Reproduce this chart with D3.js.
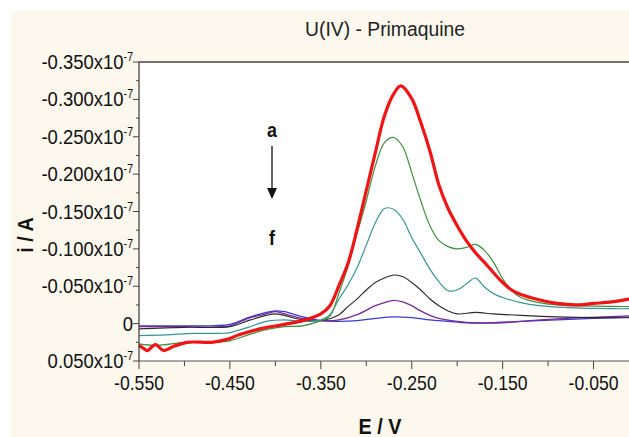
<!doctype html>
<html>
<head>
<meta charset="utf-8">
<title>U(IV) - Primaquine</title>
<script src="https://d3js.org/d3.v7.min.js"></script>
<style>
  body { margin: 0; background: #fff; }
  svg { display: block; }
  .tick-lbl { font-family: "Liberation Sans", Arial, sans-serif; font-size: 20px; fill: #111; }
  .ylbl { font-size: 21px; }
  .ttl { font-family: "Liberation Sans", Arial, sans-serif; font-size: 21px; fill: #222; }
  .axlbl { font-family: "Liberation Sans", Arial, sans-serif; font-size: 22px; font-weight: bold; fill: #111; }
  .ann { font-family: "Liberation Sans", Arial, sans-serif; font-size: 21px; font-weight: bold; fill: #111; }
</style>
</head>
<body>
<script>
// potentials (V) and currents (x1e-7 A), a .. f
var redE   = [-0.55,-0.545,-0.541,-0.532,-0.523,-0.513,-0.497,-0.47,-0.453,-0.44,-0.417,-0.39,-0.37,-0.35,-0.34,-0.33,-0.32,-0.31,-0.30,-0.29,-0.28,-0.27,-0.262,-0.25,-0.24,-0.23,-0.22,-0.21,-0.20,-0.19,-0.18,-0.17,-0.16,-0.15,-0.14,-0.13,-0.11,-0.09,-0.07,-0.05,-0.03,-0.01,0];
var redI   = [0.029,0.033,0.036,0.028,0.036,0.031,0.025,0.025,0.021,0.015,0.007,0.001,-0.004,-0.013,-0.024,-0.051,-0.081,-0.127,-0.178,-0.229,-0.278,-0.307,-0.318,-0.301,-0.269,-0.231,-0.185,-0.154,-0.131,-0.111,-0.095,-0.082,-0.068,-0.055,-0.045,-0.039,-0.032,-0.027,-0.025,-0.027,-0.029,-0.033,-0.035];

var greenE = [-0.55,-0.53,-0.50,-0.47,-0.45,-0.43,-0.41,-0.39,-0.37,-0.35,-0.34,-0.33,-0.32,-0.31,-0.30,-0.29,-0.28,-0.27,-0.26,-0.25,-0.24,-0.23,-0.22,-0.21,-0.20,-0.19,-0.18,-0.17,-0.16,-0.15,-0.14,-0.13,-0.11,-0.09,-0.07,-0.03,0];
var greenI = [0.027,0.029,0.025,0.025,0.023,0.015,0.008,0.004,0.003,-0.004,-0.010,-0.041,-0.077,-0.121,-0.164,-0.211,-0.242,-0.249,-0.237,-0.202,-0.164,-0.131,-0.111,-0.103,-0.100,-0.102,-0.106,-0.098,-0.082,-0.060,-0.044,-0.035,-0.028,-0.025,-0.024,-0.023,-0.023];

var tealE  = [-0.55,-0.52,-0.49,-0.46,-0.45,-0.43,-0.41,-0.39,-0.37,-0.35,-0.34,-0.33,-0.32,-0.31,-0.30,-0.29,-0.28,-0.27,-0.26,-0.25,-0.24,-0.23,-0.22,-0.21,-0.20,-0.19,-0.18,-0.17,-0.16,-0.15,-0.13,-0.11,-0.07,-0.03,0];
var tealI  = [0.016,0.015,0.013,0.013,0.012,0.005,-0.003,-0.005,-0.003,-0.005,-0.012,-0.033,-0.052,-0.075,-0.105,-0.135,-0.154,-0.153,-0.140,-0.115,-0.094,-0.073,-0.056,-0.044,-0.045,-0.053,-0.061,-0.049,-0.040,-0.035,-0.028,-0.024,-0.021,-0.020,-0.020];

var blackE = [-0.55,-0.50,-0.45,-0.43,-0.41,-0.40,-0.39,-0.37,-0.35,-0.33,-0.32,-0.31,-0.30,-0.29,-0.28,-0.27,-0.26,-0.25,-0.24,-0.23,-0.22,-0.21,-0.20,-0.18,-0.16,-0.13,-0.09,-0.05,0];
var blackI = [0.007,0.005,0.004,-0.004,-0.011,-0.013,-0.011,-0.005,-0.004,-0.012,-0.023,-0.033,-0.045,-0.055,-0.061,-0.065,-0.063,-0.055,-0.045,-0.033,-0.024,-0.017,-0.013,-0.015,-0.013,-0.011,-0.009,-0.008,-0.008];

var purpleE = [-0.55,-0.50,-0.45,-0.43,-0.41,-0.40,-0.39,-0.37,-0.35,-0.33,-0.31,-0.29,-0.28,-0.27,-0.26,-0.25,-0.24,-0.23,-0.22,-0.20,-0.18,-0.15,-0.12,-0.08,-0.04,0];
var purpleI = [0.004,0.004,0.003,-0.007,-0.013,-0.016,-0.013,-0.007,-0.004,-0.005,-0.012,-0.024,-0.028,-0.031,-0.029,-0.024,-0.017,-0.011,-0.007,-0.003,-0.001,-0.001,-0.004,-0.007,-0.009,-0.011];

var blueE  = [-0.55,-0.50,-0.45,-0.43,-0.41,-0.40,-0.39,-0.37,-0.35,-0.33,-0.31,-0.29,-0.27,-0.25,-0.23,-0.21,-0.19,-0.17,-0.13,-0.09,-0.05,0];
var blueI  = [0.003,0.003,0.001,-0.008,-0.015,-0.017,-0.016,-0.009,-0.004,-0.003,-0.004,-0.007,-0.009,-0.008,-0.005,-0.003,-0.001,-0.001,-0.003,-0.005,-0.007,-0.009];

var xTicks = [-0.55,-0.45,-0.35,-0.25,-0.15,-0.05];
var xMinor = [-0.50,-0.40,-0.30,-0.20,-0.10];
var yTicks = [0.05,0,-0.05,-0.10,-0.15,-0.20,-0.25,-0.30,-0.35];
var yMinor = [0.025,-0.025,-0.075,-0.125,-0.175,-0.225,-0.275,-0.325];

var series = [
  {E: blueE,   I: blueI,   col: "#3a3ad8", w: 1.3},
  {E: purpleE, I: purpleI, col: "#7a2a95", w: 1.3},
  {E: blackE,  I: blackI,  col: "#2a2a2a", w: 1.1},
  {E: tealE,   I: tealI,   col: "#3a9494", w: 1.2},
  {E: greenE,  I: greenI,  col: "#3f8f3f", w: 1.2},
  {E: redE,    I: redI,    col: "#f01414", w: 3.2}
];

var W = 629, H = 437;
var padL = 139, padT = 62, padB = 361;

var svg = d3.select("body").append("svg")
  .attr("width", W).attr("height", H);

svg.append("rect").attr("x", 11).attr("y", 11)
  .attr("width", W - 11).attr("height", H - 11)
  .attr("fill", "#fcf8ee");

var x = d3.scaleLinear().domain([-0.55, 0]).range([padL, padL + 500]);
var y = d3.scaleLinear().domain([0.05, -0.35]).range([padB, padT]);

svg.append("rect").attr("x", padL).attr("y", padT)
  .attr("width", W - padL).attr("height", padB - padT)
  .attr("fill", "#fff");

var plot = svg.append("g");
var line = d3.line().curve(d3.curveCatmullRom.alpha(0.5));

series.forEach(function(s) {
  var pts = s.E.map(function(e, i) { return [x(e), y(s.I[i])]; });
  plot.append("path")
    .attr("d", line(pts))
    .attr("fill", "none")
    .attr("stroke", s.col)
    .attr("stroke-width", s.w)
    .attr("stroke-linejoin", "round");
});

// frame lines
svg.append("line").attr("x1", padL).attr("x2", W).attr("y1", padT).attr("y2", padT)
  .attr("stroke", "#444").attr("stroke-width", 1.6);
svg.append("line").attr("x1", padL).attr("x2", padL).attr("y1", padT).attr("y2", padB)
  .attr("stroke", "#444").attr("stroke-width", 1.3);
svg.append("line").attr("x1", padL).attr("x2", W).attr("y1", padB).attr("y2", padB)
  .attr("stroke", "#555").attr("stroke-width", 1.2);

function fmt(d) { return d.toFixed(3); }

// x ticks
svg.selectAll(".xt").data(xTicks).enter().append("line")
  .attr("x1", function(d) { return x(d); }).attr("x2", function(d) { return x(d); })
  .attr("y1", padB).attr("y2", padB + 8).attr("stroke", "#444");
svg.selectAll(".xm").data(xMinor).enter().append("line")
  .attr("x1", function(d) { return x(d); }).attr("x2", function(d) { return x(d); })
  .attr("y1", padB).attr("y2", padB + 5).attr("stroke", "#444");
svg.selectAll(".xl").data(xTicks).enter().append("text")
  .attr("class", "tick-lbl")
  .attr("transform", function(d) { return "translate(" + x(d) + ",390) scale(0.88,1)"; })
  .attr("text-anchor", "middle")
  .text(fmt);

// y ticks
svg.selectAll(".yt").data(yTicks).enter().append("line")
  .attr("x1", padL - 6).attr("x2", padL)
  .attr("y1", function(d) { return y(d); }).attr("y2", function(d) { return y(d); })
  .attr("stroke", "#444");
svg.selectAll(".ym").data(yMinor).enter().append("line")
  .attr("x1", padL - 3).attr("x2", padL)
  .attr("y1", function(d) { return y(d); }).attr("y2", function(d) { return y(d); })
  .attr("stroke", "#444");
var yl = svg.selectAll(".yl").data(yTicks).enter().append("text")
  .attr("class", "tick-lbl ylbl")
  .attr("transform", function(d) { return "translate(" + (padL - 6) + "," + (y(d) + 7) + ") scale(0.88,1)"; })
  .attr("text-anchor", "end");
yl.each(function(d) {
  var t = d3.select(this);
  if (d === 0) { t.text("0"); return; }
  t.append("tspan").text(fmt(d) + "x10");
  t.append("tspan").attr("dy", -8).attr("font-size", 12).text("-7");
});

// titles
svg.append("text").attr("class", "ttl")
  .attr("transform", "translate(385,36) scale(0.92,1)")
  .attr("text-anchor", "middle").text("U(IV) - Primaquine");
svg.append("text").attr("class", "axlbl")
  .attr("transform", "translate(380,434) scale(0.9,1)")
  .attr("text-anchor", "middle").text("E / V");
svg.append("text").attr("class", "axlbl")
  .attr("transform", "translate(33,235) rotate(-90) scale(0.9,1)")
  .attr("text-anchor", "middle").text("i / A");

// a -> f annotation
svg.append("text").attr("class", "ann")
  .attr("transform", "translate(272,137) scale(0.85,1)")
  .attr("text-anchor", "middle").text("a");
svg.append("line").attr("x1", 272).attr("x2", 272).attr("y1", 146).attr("y2", 190)
  .attr("stroke", "#111").attr("stroke-width", 1.3);
svg.append("path").attr("d", d3.line()([[267, 188], [277, 188], [272, 199]]))
  .attr("fill", "#111");
svg.append("text").attr("class", "ann")
  .attr("transform", "translate(272,245) scale(0.85,1)")
  .attr("text-anchor", "middle").text("f");
</script>
</body>
</html>
